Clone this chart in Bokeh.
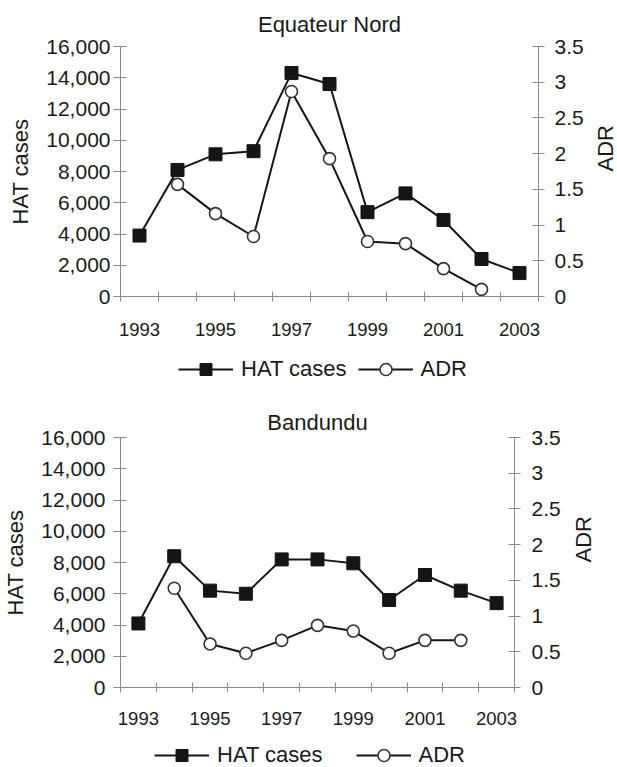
import math
from bokeh.plotting import figure
from bokeh.models import (Range1d, LinearAxis, FixedTicker, NumeralTickFormatter,
                          Legend, LegendItem)
from bokeh.layouts import column
from bokeh.embed import file_html
from bokeh.resources import INLINE

# ---------------- data ----------------
years = [1993, 1994, 1995, 1996, 1997, 1998, 1999, 2000, 2001, 2002, 2003]
adr_years = [1994, 1995, 1996, 1997, 1998, 1999, 2000, 2001, 2002]

equateur_hat = [3900, 8100, 9100, 9300, 14300, 13600, 5400, 6600, 4900, 2400, 1500]
equateur_adr = [1.57, 1.16, 0.84, 2.87, 1.93, 0.77, 0.74, 0.39, 0.10]

bandundu_hat = [4100, 8400, 6200, 6000, 8200, 8200, 7950, 5600, 7200, 6200, 5400]
bandundu_adr = [1.39, 0.61, 0.48, 0.66, 0.87, 0.79, 0.48, 0.66, 0.66]

x_label_years = [1993, 1995, 1997, 1999, 2001, 2003]
hat_ticks = [0, 2000, 4000, 6000, 8000, 10000, 12000, 14000, 16000]
adr_ticks = [0.0, 0.5, 1.0, 1.5, 2.0, 2.5, 3.0, 3.5]
adr_tick_labels = ["0", "0.5", "1", "1.5", "2", "2.5", "3", "3.5"]
series_names = ["HAT cases", "ADR"]

FONT = "Liberation Sans"
AXC = "#8a8a8a"
INK = "#151515"
TXT = "#1a1a1a"
W = 609

HAT_LINE = dict(line_color=INK, line_width=2)
HAT_MARK = dict(marker="square", size=13, fill_color=INK, line_color=INK, line_width=1)
ADR_LINE = dict(line_color=INK, line_width=2)
ADR_MARK = dict(marker="circle", size=12, fill_color="white",
                line_color="#333333", line_width=1.6)


def style_axis(ax, size):
    ax.axis_line_color = AXC
    ax.axis_line_width = 1
    ax.major_tick_line_color = AXC
    ax.minor_tick_line_color = AXC
    ax.major_label_text_font = FONT
    ax.major_label_text_font_size = size
    ax.major_label_text_color = TXT
    ax.axis_label_text_font = FONT
    ax.axis_label_text_font_size = "22px"
    ax.axis_label_text_font_style = "normal"
    ax.axis_label_text_color = TXT


def make_panel(title, hat, adr, g):
    p = figure(frame_width=g["fw"], frame_height=250,
               min_border_left=g["bl"], min_border_right=g["br"],
               min_border_top=g["bt"], min_border_bottom=g["bb"],
               x_range=Range1d(1992.5, 2003.5), y_range=Range1d(0, 16000),
               output_backend="svg", toolbar_location=None, tools="")
    p.outline_line_color = None
    p.grid.visible = False
    p.background_fill_color = "white"
    p.border_fill_color = "white"

    p.title.text = title
    p.title.align = "center"
    p.title.offset = g["toff"]
    p.title.standoff = g["tst"]
    p.title.text_font = FONT
    p.title.text_font_size = "22px"
    p.title.text_font_style = "normal"
    p.title.text_color = TXT

    p.extra_y_ranges = {"adr": Range1d(0, 3.5)}

    # x axis: labels at odd years, tick marks between categories
    xa = p.xaxis[0]
    bounds = [y - 0.5 for y in years] + [years[-1] + 0.5]
    xa.ticker = FixedTicker(ticks=x_label_years, minor_ticks=bounds)
    style_axis(xa, "18.5px")
    xa.major_tick_in = 0
    xa.major_tick_out = 0
    xa.minor_tick_in = 5
    xa.minor_tick_out = 5
    xa.major_label_standoff = g["xst"]

    ya = p.yaxis[0]
    ya.ticker = FixedTicker(ticks=hat_ticks)
    ya.formatter = NumeralTickFormatter(format="0,0")
    style_axis(ya, "21px")
    ya.axis_label = "HAT cases"
    ya.major_tick_in = 6
    ya.major_tick_out = 7
    ya.minor_tick_line_color = None
    ya.major_label_standoff = g["yst"]
    ya.axis_label_standoff = 10

    ra = LinearAxis(y_range_name="adr", ticker=FixedTicker(ticks=adr_ticks),
                    major_label_overrides=dict(zip(adr_ticks, adr_tick_labels)),
                    axis_label="ADR")
    style_axis(ra, "21px")
    ra.major_tick_in = 6
    ra.major_tick_out = 6
    ra.minor_tick_line_color = None
    ra.major_label_standoff = g["rst"]
    ra.axis_label_standoff = g["ast"]
    try:
        ra.axis_label_orientation = math.pi / 2
    except Exception:
        pass
    p.add_layout(ra, "right")

    p.line(years, hat, **HAT_LINE)
    p.scatter(years, hat, **HAT_MARK)
    p.line(adr_years, adr, y_range_name="adr", **ADR_LINE)
    p.scatter(adr_years, adr, y_range_name="adr", **ADR_MARK)
    return p


def make_legend(hat, adr, height, lx, ly, spacing):
    # a strip that only carries the legend; its renderers hold the series
    # but are hidden, so only the legend glyphs show
    q = figure(width=W, height=height, min_border=0,
               x_range=Range1d(1992.5, 2003.5), y_range=Range1d(0, 16000),
               x_axis_type=None, y_axis_type=None,
               output_backend="svg", toolbar_location=None, tools="")
    q.outline_line_color = None
    q.grid.visible = False
    hl = q.line(years, hat, visible=False, **HAT_LINE)
    hs = q.scatter(years, hat, visible=False, **HAT_MARK)
    al = q.line(adr_years, adr, visible=False, **ADR_LINE)
    ac = q.scatter(adr_years, adr, visible=False, **ADR_MARK)
    leg = Legend(items=[LegendItem(label=series_names[0], renderers=[hl, hs]),
                        LegendItem(label=series_names[1], renderers=[al, ac])],
                 orientation="horizontal", location=(lx, ly),
                 glyph_width=55, glyph_height=30, label_standoff=8,
                 spacing=spacing, padding=0, margin=0,
                 border_line_color=None, background_fill_alpha=0,
                 inactive_fill_alpha=0, click_policy="none",
                 label_text_font=FONT, label_text_font_size="22px",
                 label_text_color=TXT)
    q.add_layout(leg)
    return q


top = make_panel("Equateur Nord", equateur_hat, equateur_adr,
                 dict(fw=418, bl=113, br=78, bt=46, bb=50, toff=-18, tst=19,
                      xst=21, yst=3, rst=10, ast=19))
top_leg = make_legend(equateur_hat, equateur_adr, 40, 58, 2, 11)
bottom = make_panel("Bandundu", bandundu_hat, bandundu_adr,
                    dict(fw=394, bl=113, br=102, bt=51, bb=45, toff=-8, tst=5,
                         xst=19, yst=8, rst=11, ast=20))
bottom_leg = make_legend(bandundu_hat, bandundu_adr, 38, 34, 0, 33)

layout = column(top, top_leg, bottom, bottom_leg, spacing=0)
open("out.html", "w").write(file_html(layout, INLINE))
